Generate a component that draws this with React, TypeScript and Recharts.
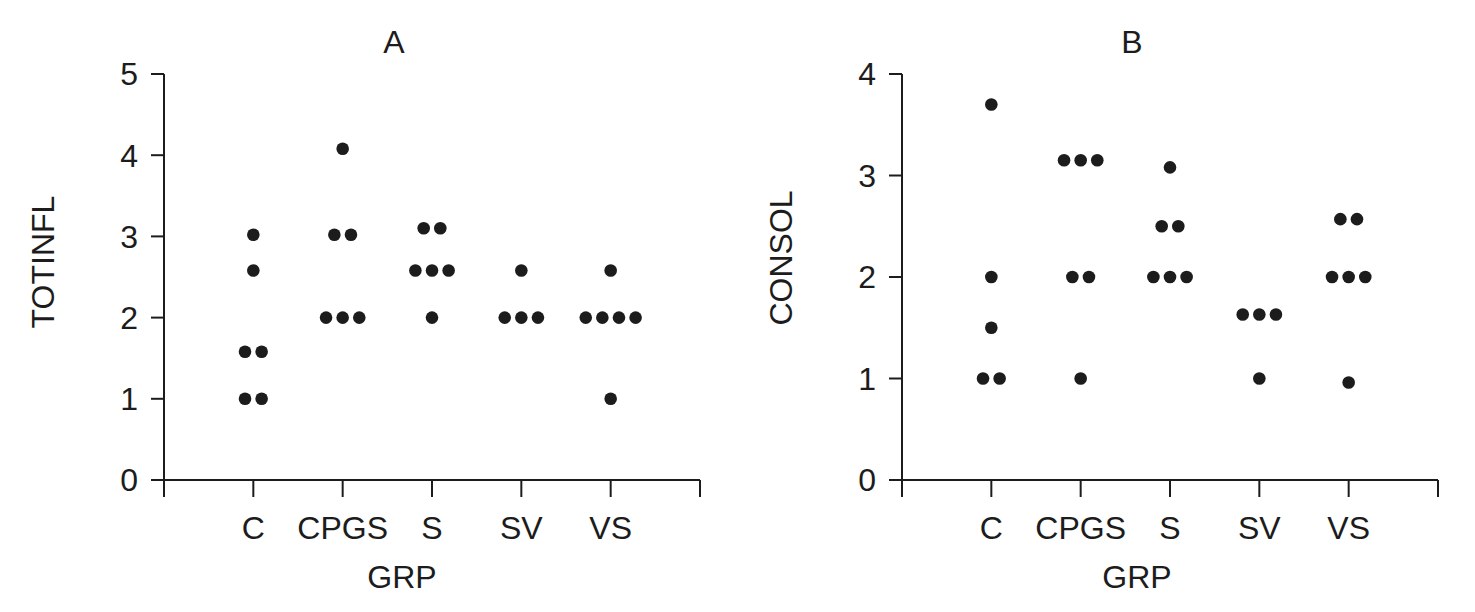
import { ScatterChart, Scatter, XAxis, YAxis, Label } from 'recharts';

// group names on the x axis (positions 1..5, ends at 0 and 6 are blank)
const GROUPS = ['C', 'CPGS', 'S', 'SV', 'VS'];
const X_TICKS = [0, 1, 2, 3, 4, 5, 6];

// panel A: TOTINFL per group
const TOTINFL_C = [1, 1, 1.58, 1.58, 2.58, 3.02];
const TOTINFL_CPGS = [2, 2, 2, 3.02, 3.02, 4.08];
const TOTINFL_S = [2, 2.58, 2.58, 2.58, 3.1, 3.1];
const TOTINFL_SV = [2, 2, 2, 2.58];
const TOTINFL_VS = [1, 2, 2, 2, 2, 2.58];
const TOTINFL_TICKS = [0, 1, 2, 3, 4, 5];

// panel B: CONSOL per group
const CONSOL_C = [1, 1, 1.5, 2, 3.7];
const CONSOL_CPGS = [1, 2, 2, 3.15, 3.15, 3.15];
const CONSOL_S = [2, 2, 2, 2.5, 2.5, 3.08];
const CONSOL_SV = [1, 1.63, 1.63, 1.63];
const CONSOL_VS = [0.96, 2, 2, 2, 2.57, 2.57];
const CONSOL_TICKS = [0, 1, 2, 3, 4];

const INK = '#1c1c1c';
const FONT = '"Liberation Sans", Arial, Helvetica, sans-serif';
const DOT_STEP = 0.186; // side-by-side spacing of equal values, in category units

type Pt = { x: number; y: number };

// dot plot: equal values in a group sit side by side, centred on the group tick
function stack(groups: number[][]): Pt[] {
  const out: Pt[] = [];
  groups.forEach((vals, gi) => {
    const counts = new Map<number, number>();
    vals.forEach((v) => counts.set(v, (counts.get(v) || 0) + 1));
    const seen = new Map<number, number>();
    vals.forEach((v) => {
      const n = counts.get(v) || 1;
      const i = seen.get(v) || 0;
      seen.set(v, i + 1);
      out.push({ x: gi + 1 + (i - (n - 1) / 2) * DOT_STEP, y: v });
    });
  });
  return out;
}

const dot = (p: any) => <circle cx={p.cx} cy={p.cy} r={6.3} fill={INK} />;

function Panel(props: {
  left: number;
  title: string;
  yLabel: string;
  yLabelY: number;
  gx: number;
  points: Pt[];
  yTicks: number[];
}) {
  const { left, title, yLabel, yLabelY, gx, points, yTicks } = props;
  const yMax = yTicks[yTicks.length - 1];
  return (
    <div style={{ position: 'absolute', left, top: 0 }}>
      <ScatterChart width={737} height={612} margin={{ top: 74, right: 37, bottom: 0, left: 0 }}>
        <XAxis
          type="number"
          dataKey="x"
          domain={[0, 6]}
          ticks={X_TICKS}
          interval={0}
          tickFormatter={(v: number) => GROUPS[v - 1] ?? ''}
          height={132}
          tickSize={17}
          tickMargin={19}
          stroke={INK}
          strokeWidth={2}
          tick={{ fill: INK, fontSize: 32, fontFamily: FONT }}
        >
          <Label
            content={() => (
              <text x={gx} y={588} textAnchor="middle" fill={INK} fontSize={32} fontFamily={FONT}>
                GRP
              </text>
            )}
          />
        </XAxis>
        <YAxis
          type="number"
          dataKey="y"
          domain={[0, yMax]}
          ticks={yTicks}
          interval={0}
          width={164}
          tickSize={13}
          tickMargin={13}
          stroke={INK}
          strokeWidth={2}
          tick={{ fill: INK, fontSize: 32, fontFamily: FONT }}
        >
          <Label
            content={() => (
              <g>
                <text x={394} y={53} textAnchor="middle" fill={INK} fontSize={32} fontFamily={FONT}>
                  {title}
                </text>
                <text
                  x={53.5}
                  y={yLabelY}
                  textAnchor="middle"
                  transform={`rotate(-90, 53.5, ${yLabelY})`}
                  fill={INK}
                  fontSize={32}
                  fontFamily={FONT}
                >
                  {yLabel}
                </text>
              </g>
            )}
          />
        </YAxis>
        <Scatter data={points} shape={dot} fill={INK} isAnimationActive={false} />
      </ScatterChart>
    </div>
  );
}

export default function App() {
  const a = stack([TOTINFL_C, TOTINFL_CPGS, TOTINFL_S, TOTINFL_SV, TOTINFL_VS]);
  const b = stack([CONSOL_C, CONSOL_CPGS, CONSOL_S, CONSOL_SV, CONSOL_VS]);
  return (
    <div style={{ position: 'absolute', left: 0, top: 0, width: 1475, height: 612, background: '#fff' }}>
      <Panel left={0} title="A" yLabel="TOTINFL" yLabelY={262} gx={402} points={a} yTicks={TOTINFL_TICKS} />
      <Panel left={738} title="B" yLabel="CONSOL" yLabelY={258} gx={399} points={b} yTicks={CONSOL_TICKS} />
    </div>
  );
}
